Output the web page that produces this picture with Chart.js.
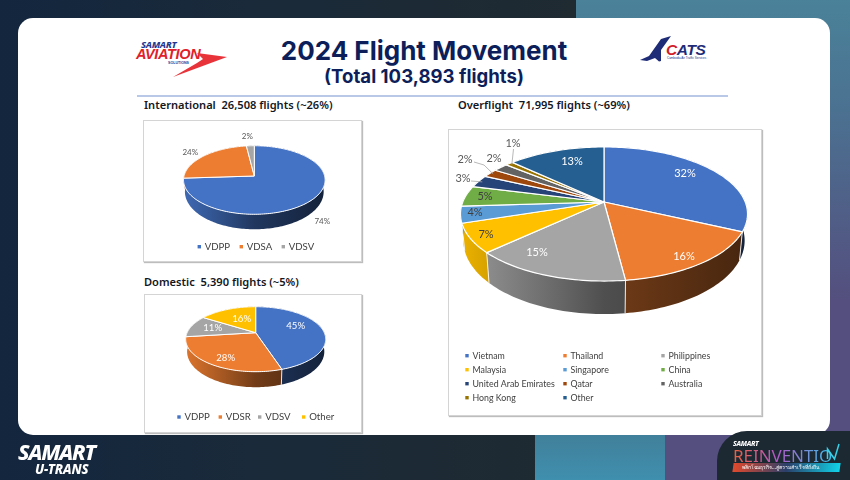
<!DOCTYPE html>
<html><head><meta charset="utf-8">
<script src="https://cdn.jsdelivr.net/npm/chart.js@4"></script>
<style>
html,body{margin:0;padding:0}
#slide{position:relative;width:850px;height:480px;overflow:hidden;background:linear-gradient(90deg,#13263e 0,#1a2a3a 250px,#1f2a31 575px);font-family:Lato,sans-serif}
#slide div,#slide canvas,#slide svg{position:absolute}
#slide span.t{position:absolute;white-space:nowrap}
canvas{left:0;top:0;pointer-events:none}
.head{font-family:"Noto Sans",sans-serif;font-weight:600;color:#14171f;font-size:11.1px;line-height:14px;white-space:nowrap}
.box{background:#fff;border:1px solid #d4d4d4;box-shadow:1px 1px 1px #bdbdbd;box-sizing:border-box}
</style></head><body>
<div id="slide">
 <div style="left:576px;top:0;width:274px;height:440px;background:linear-gradient(180deg,#4a8299 0,#4b7191 110px,#544f7e 300px)"></div>
 <div style="left:535px;top:435px;width:130px;height:45px;background:linear-gradient(180deg,#41809a,#3f8fae)"></div>
 <div style="left:665px;top:435px;width:185px;height:45px;background:#544f7e"></div>
 <div style="left:18px;top:18px;width:812px;height:417px;background:#fff;border-radius:15px"></div>

 <!-- Samart Aviation logo -->
 <span class="t" style="left:141px;top:39px;font:italic 800 9.5px/11px 'Noto Sans';color:#1f3a93;letter-spacing:-.3px">SAMART</span>
 <span class="t" style="left:136px;top:45px;font:italic 700 14.5px/18px 'Liberation Sans Narrow','Liberation Sans';color:#e0202a;letter-spacing:-.35px">AVIATION</span>
 <span class="t" style="left:168px;top:61px;font:700 3.6px/5px 'Liberation Sans';color:#1f3a93">SOLUTIONS</span>
 <svg style="left:170px;top:50px" width="60" height="28"><path d="M27 3 L57 7 L3 27 L27 13 L33 9Z" fill="#e8333a"/></svg>
 <!-- CATS logo -->
 <svg style="left:640px;top:36px" width="34" height="28"><path d="M31 0 L21 3 L9 20 L0 24 L7 25 L15 22 L19 25.5 L21 25 L21 14Z" fill="#1e2c78"/></svg>
 <span class="t" style="left:666px;top:41px;font:italic 700 15.5px/18px 'Liberation Sans';letter-spacing:-.4px;color:#1e2c78"><span style="color:#d11f2a">C</span>ATS</span>
 <span class="t" style="left:667px;top:56px;font:400 3px/4px 'Liberation Sans';color:#1e2c78">Cambodia Air Traffic Services</span>

 <span class="t" id="title" style="left:0;width:848px;text-align:center;top:34px;font:700 26px/34px Inter;color:#0d1f5a">2024 Flight Movement</span>
 <span class="t" id="sub" style="left:0;width:848px;text-align:center;top:64px;font:700 18.6px/24px Inter;color:#0d1f5a">(Total 103,893 flights)</span>
 <div style="left:137px;top:95px;width:591px;height:1.5px;background:#b9c8e6"></div>

 <div class="head" style="left:144px;top:98px">International&nbsp; 26,508 flights (~26%)</div>
 <div class="head" style="left:458px;top:98px">Overflight&nbsp; 71,995 flights (~69%)</div>
 <div class="head" style="left:144px;top:275px">Domestic&nbsp; 5,390 flights (~5%)</div>

 <div class="box" style="left:143px;top:120px;width:219px;height:142px"></div>
 <div class="box" style="left:144px;top:294px;width:218px;height:139px"></div>
 <div class="box" style="left:448px;top:129px;width:314px;height:287px"></div>

 <canvas id="cIntl" width="850" height="480"></canvas>
 <canvas id="cDom" width="850" height="480"></canvas>
 <canvas id="cOver" width="850" height="480"></canvas>

 <!-- footer logos -->
 <span class="t" style="left:18px;top:440px;font:italic 800 21.5px/24px 'Noto Sans';color:#fff;letter-spacing:-1.15px">SAMART</span>
 <span class="t" style="left:35px;top:461px;font:italic 800 13.2px/16px 'Noto Sans';color:#fff;letter-spacing:-.1px">U-TRANS</span>
 <div style="left:717px;top:431px;width:133px;height:49px;background:#1c2933;border-radius:30px 0 0 0"></div>
 <span class="t" style="left:733px;top:439px;font:italic 800 7px/9px 'Noto Sans';color:#fff;letter-spacing:-.3px">SAMART</span>
 <span class="t" style="left:733px;top:446px;font:400 17px/20px 'Noto Sans';letter-spacing:-.05px;background:linear-gradient(90deg,#f0603a,#b05ac8 45%,#3cc0e8);-webkit-background-clip:text;background-clip:text;color:transparent">REINVENTIO</span>
 <svg style="left:825px;top:443px" width="24" height="20"><path d="M2.5 16 L2.5 6 L9.5 16 L14 1" fill="none" stroke="#35d2e8" stroke-width="1.5"/></svg>
 <div style="left:733px;top:463px;width:107px;height:9px;background:linear-gradient(90deg,#e2492c,#2a3f6a 50%,#10d3e8);transform:skewX(-8deg)"></div>
 <span class="t" style="left:742px;top:464px;font:500 5px/7px 'Noto Sans',sans-serif;color:#fff">พลิกโฉมธุรกิจ...สู่ความสำเร็จที่ยั่งยืน</span>
</div>

<script>
// ---- data ----
const intlCategories = ['VDPP', 'VDSA', 'VDSV'];
const intlValues = [74, 24, 2];
const domCategories = ['VDPP', 'VDSR', 'VDSV', 'Other'];
const domValues = [45, 28, 11, 16];
const overCategories = ['Vietnam', 'Thailand', 'Philippines', 'Malaysia', 'Singapore', 'China',
  'United Arab Emirates', 'Qatar', 'Australia', 'Hong Kong', 'Other'];
const overValues = [32, 16, 15, 7, 4, 5, 3, 2, 2, 1, 13];
const palette = ['#4472C4', '#ED7D31', '#A5A5A5', '#FFC000', '#5B9BD5', '#70AD47',
  '#264478', '#9E480E', '#636363', '#997300', '#255E91'];
const domPalette = ['#4472C4', '#ED7D31', '#A5A5A5', '#FFC000'];
const intlPalette = ['#4472C4', '#ED7D31', '#A5A5A5'];

// ---- styling helpers ----
function shade(hex, f) {
  const n = parseInt(hex.slice(1), 16);
  return `rgb(${Math.round((n >> 16) * f)},${Math.round(((n >> 8) & 255) * f)},${Math.round((n & 255) * f)})`;
}
// perspective view of the flat pie; the plugin reads angles and centre from Chart.js arc elements
const pie3d = {
  id: 'pie3d',
  beforeDatasetDraw(chart) {
    const o = chart.options.plugins.pie3d, ctx = chart.ctx;
    const arcs = chart.getDatasetMeta(0).data;
    const view = viewOf(arcs[0], o);
    const front = view.at(Math.PI / 2, 1).y - view.cy;
    const lower = p => ({
      x: view.cx + (p.x - view.cx) * 0.98,
      y: p.y + (o.depth - 0.095 * front) + 0.095 * (p.y - view.cy)
    });
    ctx.save();
    // walls
    arcs.forEach(arc => {
      const base = arc.options.backgroundColor;
      const rim = rimPoints(arc, view);
      const g = ctx.createLinearGradient(view.cx - view.s, 0, view.cx + view.s, 0);
      o.wallStops.forEach(([p, f]) => g.addColorStop(p, shade(base, f)));
      ctx.beginPath();
      rim.forEach((p, j) => j ? ctx.lineTo(p.x, p.y) : ctx.moveTo(p.x, p.y));
      rim.slice().reverse().forEach(p => { const q = lower(p); ctx.lineTo(q.x, q.y); });
      ctx.closePath();
      ctx.fillStyle = g;
      ctx.fill();
    });
    // visible wall seams
    ctx.strokeStyle = 'rgba(255,255,255,.85)';
    ctx.lineWidth = 1;
    arcs.forEach(arc => {
      if (Math.sin(arc.endAngle) > 0.1) {
        const p = view.at(arc.endAngle, 1), q = lower(p);
        ctx.beginPath(); ctx.moveTo(p.x, p.y); ctx.lineTo(q.x, q.y); ctx.stroke();
      }
    });
    // top faces
    arcs.forEach(arc => {
      const rim = rimPoints(arc, view), hub = view.at(0, 0);
      ctx.beginPath();
      ctx.moveTo(hub.x, hub.y);
      rim.forEach(p => ctx.lineTo(p.x, p.y));
      ctx.closePath();
      ctx.fillStyle = arc.options.backgroundColor;
      ctx.fill();
      ctx.strokeStyle = '#fff';
      ctx.lineWidth = o.seam;
      ctx.lineJoin = 'round';
      ctx.stroke();
    });
    ctx.restore();
    return false;
  },
  afterDatasetsDraw(chart) {
    const o = chart.options.plugins.pie3d, ctx = chart.ctx;
    const arcs = chart.getDatasetMeta(0).data;
    const view = viewOf(arcs[0], o);
    const values = chart.data.datasets[0].data;
    ctx.save();
    // leader lines
    ctx.strokeStyle = '#a6a6a6';
    ctx.lineWidth = 0.8;
    (o.leaders || []).forEach(l => {
      const arc = arcs[l.index], end = view.at((arc.startAngle + arc.endAngle) / 2, 0.97);
      ctx.beginPath();
      ctx.moveTo(view.cx + l.from[0], view.cy + l.from[1]);
      if (l.via) ctx.lineTo(view.cx + l.via[0], view.cy + l.via[1]);
      ctx.lineTo(end.x, end.y);
      ctx.stroke();
    });
    // value labels
    ctx.font = o.labelFont;
    ctx.textAlign = 'center';
    ctx.textBaseline = 'middle';
    values.forEach((v, i) => {
      ctx.fillStyle = o.labelColors[i];
      ctx.fillText(v + '%', view.cx + o.labelOffsets[i][0], view.cy + o.labelOffsets[i][1]);
    });
    // legend
    ctx.font = o.legendFont;
    ctx.textAlign = 'left';
    chart.data.labels.forEach((name, i) => {
      const c = o.legendCols[o.legendRows > 1 ? i % o.legendCols.length : i];
      const y = o.legendY + (o.legendRows > 1 ? Math.floor(i / o.legendCols.length) * o.legendStep : 0);
      ctx.fillStyle = arcs[i].options.backgroundColor;
      ctx.fillRect(c - 1.7, y - 1.7, 3.4, 3.4);
      ctx.fillStyle = o.legendColor;
      ctx.fillText(name, c + 5.5, y + 0.3);
    });
    ctx.restore();
  }
};
function viewOf(arc, o) {
  const s = arc.outerRadius, cx = arc.x, cy = arc.y, k = o.squash * s, a = o.persp;
  return { s, cx, cy, at(angle, r) {
    const x = r * Math.cos(angle), y = r * Math.sin(angle), w = 1 - a * y;
    return { x: cx + s * x / w, y: cy + k * y / w };
  } };
}
function rimPoints(arc, view) {
  const n = Math.max(2, Math.ceil((arc.endAngle - arc.startAngle) * 40)), pts = [];
  for (let j = 0; j <= n; j++) pts.push(view.at(arc.startAngle + (arc.endAngle - arc.startAngle) * j / n, 1));
  return pts;
}
function makePie(id, labels, data, colors, hub, radius, plugOpts) {
  new Chart(document.getElementById(id), {
    type: 'pie',
    data: { labels, datasets: [{ data, backgroundColor: colors, borderWidth: 0, hoverOffset: 0 }] },
    options: {
      responsive: false, animation: false, events: [],
      layout: { padding: { left: hub[0] - radius, right: 850 - hub[0] - radius, top: hub[1] - radius, bottom: 480 - hub[1] - radius } },
      plugins: { legend: { display: false }, tooltip: { enabled: false }, title: { display: false }, pie3d: plugOpts }
    },
    plugins: [pie3d]
  });
}
const wall = [[0, 0.92], [0.35, 0.62], [0.5, 0.48], [1, 0.3]];
makePie('cIntl', intlCategories, intlValues, intlPalette, [254.3, 176], 70.3, {
  squash: 33.8 / 70.3, persp: 0.117, depth: 15, seam: 1, wallStops: wall,
  labelFont: '8px Lato', labelColors: ['#595959', '#595959', '#595959'],
  labelOffsets: [[68, 45], [-64, -24], [-7, -40]],
  legendFont: '9.6px Lato', legendColor: '#404040', legendCols: [199.3, 241.3, 283.3], legendRows: 1, legendY: 246.7
});
makePie('cDom', domCategories, domValues, domPalette, [255.7, 332.7], 68.6, {
  squash: 31.2 / 68.6, persp: 0.2, depth: 15.5, seam: 1, wallStops: wall,
  labelFont: '9.6px Lato', labelColors: ['#fff', '#fff', '#fff', '#fff'],
  labelOffsets: [[40, -7], [-30, 25], [-43, -5], [-14, -14]],
  legendFont: '9.6px Lato', legendColor: '#404040', legendCols: [179, 220.3, 259.7, 303.7], legendRows: 1, legendY: 417
});
makePie('cOver', overCategories, overValues, palette, [604, 202], 141.2, {
  squash: 64.9 / 141.2, persp: 0.179, depth: 33, seam: 1.2, wallStops: wall,
  labelFont: '11px Lato',
  labelColors: ['#fff', '#fff', '#fff', '#404040', '#404040', '#404040', '#595959', '#595959', '#595959', '#595959', '#fff'],
  labelOffsets: [[81, -29], [80, 54], [-67, 50], [-118, 32], [-129, 10], [-119, -6], [-141, -24], [-139, -43], [-110, -44], [-91, -59], [-32, -41]],
  leaders: [
    { index: 6, from: [-133, -21] },
    { index: 7, from: [-130, -40], via: [-120, -37] },
    { index: 9, from: [-90.5, -53] }
  ],
  legendFont: '8.8px Lato', legendColor: '#404040', legendCols: [467, 565, 663], legendRows: 4, legendStep: 14, legendY: 355.7
});
</script>
</body></html>
